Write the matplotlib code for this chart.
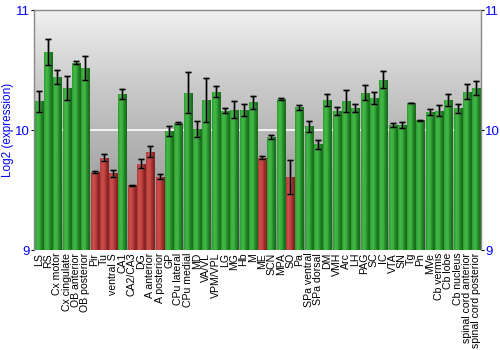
import numpy as np
import matplotlib
matplotlib.use("Agg")
import matplotlib.pyplot as plt
from matplotlib.colors import LinearSegmentedColormap

regions = ["LS", "RS", "Cx motor", "Cx cingulate", "OB anterior", "OB posterior",
           "Pir", "Tu", "ventral S", "CA1", "CA2/CA3", "DG", "A anterior",
           "A posterior", "GP", "CPu lateral", "CPu medial", "MD", "VA/VL",
           "VPM/VPL", "LG", "MG", "Hb", "M", "ME", "SCN", "MPA", "SO", "Pa",
           "SPa ventral", "SPa dorsal", "DM", "VMH", "Arc", "LH", "PAG", "SC",
           "IC", "VTA", "SN", "Tg", "Pn", "MVe", "Cb vermis", "Cb lobe",
           "Cb nucleus", "spinal cord anterior", "spinal cord posterior"]

expression = [10.24, 10.65, 10.44, 10.35, 10.56, 10.52,
              9.65, 9.77, 9.64, 10.30, 9.54, 9.72, 9.82,
              9.61, 9.99, 10.06, 10.31, 10.01, 10.25,
              10.32, 10.16, 10.17, 10.17, 10.23, 9.77, 9.94, 10.26, 9.61, 10.19,
              10.03, 9.88, 10.25, 10.16, 10.24, 10.18, 10.31, 10.27,
              10.42, 10.04, 10.04, 10.225, 10.08, 10.15, 10.16, 10.25,
              10.18, 10.32, 10.35]

sem = [0.086, 0.11, 0.06, 0.10, 0.013, 0.10,
       0.008, 0.027, 0.03, 0.04, 0.005, 0.04, 0.045,
       0.022, 0.04, 0.008, 0.17, 0.068, 0.18,
       0.047, 0.02, 0.07, 0.05, 0.055, 0.013, 0.017, 0.008, 0.14, 0.02,
       0.043, 0.04, 0.046, 0.033, 0.09, 0.033, 0.064, 0.05,
       0.073, 0.018, 0.024, 0.004, 0.005, 0.028, 0.046, 0.05,
       0.038, 0.063, 0.058]

low_regions = {"Pir", "Tu", "ventral S", "CA2/CA3", "DG", "A anterior",
               "A posterior", "ME", "SO"}

ymin, ymax = 9, 11
blue = "#0000ff"
fam = ["Liberation Sans", "DejaVu Sans"]

green_cmap = LinearSegmentedColormap.from_list(
    "g", ["#2a9a30", "#45b848", "#3aae3e", "#1f7f25", "#176a1c"])
red_cmap = LinearSegmentedColormap.from_list(
    "r", ["#b03a38", "#cc504c", "#c04442", "#9a2a2a", "#7e2020"])
bg_cmap = LinearSegmentedColormap.from_list(
    "bg", ["#8c8c8c", "#a8a8a8", "#c8c8c8", "#f0f0f0"])

fig = plt.figure(figsize=(5, 3.5), dpi=100)
ax = fig.add_axes([0.068, 0.2857, 0.894, 0.6857])

n = len(regions)
x = np.arange(n)
ax.set_xlim(-0.5, n - 0.5)
ax.set_ylim(ymin, ymax)

# grey vertical gradient behind the plot
grad = np.linspace(0, 1, 256).reshape(-1, 1)
ax.imshow(grad, aspect="auto", cmap=bg_cmap, origin="lower",
          extent=(-0.5, n - 0.5, ymin, ymax), zorder=0)
ax.axhline(10, color="white", lw=1.2, zorder=1)

width = 0.86
bars = ax.bar(x, np.array(expression) - ymin, bottom=ymin, width=width,
              color="none", edgecolor="none", zorder=2)
hgrad = np.linspace(0, 1, 64).reshape(1, -1)
for name, b in zip(regions, bars):
    cmap = red_cmap if name in low_regions else green_cmap
    x0 = b.get_x()
    im = ax.imshow(hgrad, aspect="auto", cmap=cmap,
                   extent=(x0, x0 + b.get_width(), ymin, ymin + b.get_height()),
                   zorder=2)
    im.set_clip_path(b)

ax.errorbar(x, expression, yerr=sem, fmt="none", ecolor="#555555",
            elinewidth=2.0, capsize=2.2, capthick=2.0, zorder=3, alpha=0.5)
ax.errorbar(x, expression, yerr=sem, fmt="none", ecolor="black",
            elinewidth=0.9, capsize=2.0, capthick=0.9, zorder=4)

ax.set_xticks(x)
ax.set_xticklabels(regions, rotation=90, fontsize=7.6, family=fam)
ax.tick_params(axis="x", length=0, pad=2)

ax.set_yticks([9, 10, 11])
ax.tick_params(axis="y", which="both", direction="out", length=2.5,
               labelsize=9.5, labelcolor=blue, color="black",
               left=True, right=True, labelleft=True, labelright=True, pad=0.5)
for lbl in ax.get_yticklabels():
    lbl.set_family(fam)

ax.set_ylabel("Log2 (expression)", color=blue, fontsize=8.5,
              family=fam, labelpad=1)

for side in ("left", "right", "top"):
    ax.spines[side].set_color("#888888")
    ax.spines[side].set_linewidth(1.0)
ax.spines["bottom"].set_visible(False)

fig.savefig("out.png", dpi=100, facecolor="white")
